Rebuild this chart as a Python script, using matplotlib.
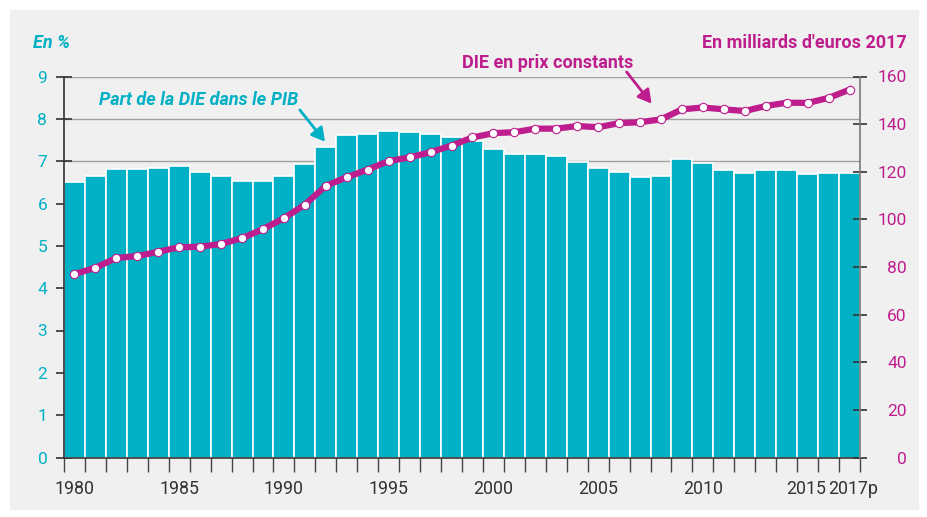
import matplotlib
matplotlib.use("Agg")
import matplotlib.pyplot as plt
import matplotlib.transforms as mtransforms
from matplotlib.patches import Rectangle
import numpy as np

# ── data ─────────────────────────────────────────────────────────────────────

years = list(range(1980, 2018))

# Part de la DIE dans le PIB (en %)
part_pib = [6.50, 6.65, 6.82, 6.81, 6.84, 6.89, 6.74, 6.65, 6.54, 6.52,
            6.64, 6.94, 7.34, 7.61, 7.64, 7.71, 7.70, 7.65, 7.56, 7.48,
            7.29, 7.17, 7.18, 7.12, 6.97, 6.85, 6.75, 6.63, 6.66, 7.06,
            6.96, 6.79, 6.72, 6.78, 6.78, 6.69, 6.71, 6.72]

# DIE en prix constants (milliards d'euros 2017)
die_const = [77.0, 79.7, 83.8, 84.6, 86.4, 88.3, 88.5, 89.7, 92.1, 95.9,
             100.5, 106.2, 114.1, 117.7, 120.9, 124.5, 126.0, 128.2, 131.0, 134.4,
             136.2, 136.6, 138.1, 138.1, 139.2, 138.7, 140.4, 140.8, 142.0, 146.2,
             147.0, 146.2, 145.5, 147.6, 149.0, 148.9, 151.0, 154.5]

label_years = [1980, 1985, 1990, 1995, 2000, 2005, 2010, 2015, 2017]
label_texts = ["1980", "1985", "1990", "1995", "2000", "2005", "2010", "2015", "2017p"]

left_ticks = list(range(0, 10))
right_ticks = list(range(0, 161, 20))

# ── style ────────────────────────────────────────────────────────────────────

TEAL = "#00B0C4"
MAGENTA = "#BE1E8D"
BG = "#F0F0F0"
DARK = "#333333"

plt.rcParams["font.family"] = ["Roboto", "DejaVu Sans"]

W, H = 927, 517
fig = plt.figure(figsize=(W / 100, H / 100), dpi=100)
fig.patch.set_facecolor("white")
fig.patches.append(Rectangle((10 / W, 1 - 509 / H), 908 / W, 499 / H,
                             transform=fig.transFigure, color=BG, zorder=-10))

ax = fig.add_axes([64 / W, 1 - 457.5 / H, 796 / W, 381 / H])
ax.set_facecolor("none")

x = np.arange(len(years))
ax.bar(x, part_pib, width=1.0, color=TEAL, edgecolor="white",
       linewidth=1.2, zorder=2)

ax.set_xlim(-0.5, len(years) - 0.5)
ax.set_ylim(0, 9)
ax.set_yticks(left_ticks)
ax.yaxis.grid(True, color="#a0a0a0", lw=1.0)
ax.set_axisbelow(True)

# x axis: labels at bar centres, ticks at bar edges
ax.set_xticks([years.index(y) for y in label_years])
ax.set_xticklabels(label_texts)
ax.set_xticks(np.arange(-0.5, len(years)), minor=True)
ax.tick_params(axis="x", which="major", length=0, pad=16,
               labelsize=12.8, labelcolor=DARK)
ax.tick_params(axis="x", which="minor", length=10, width=1, color="#444444",
               direction="out")
ax.tick_params(axis="y", direction="inout", length=11, width=1.2,
               color=DARK, labelsize=12.5, labelcolor=TEAL, pad=6.5)

# nudge the last two labels apart like the original
xlabels = ax.get_xticklabels()
xlabels[-2].set_transform(xlabels[-2].get_transform() +
                          mtransforms.ScaledTranslation(-2 / 100, 0, fig.dpi_scale_trans))
xlabels[-1].set_transform(xlabels[-1].get_transform() +
                          mtransforms.ScaledTranslation(4 / 100, 0, fig.dpi_scale_trans))

for s in ("top", "right"):
    ax.spines[s].set_visible(False)
ax.spines["left"].set_color(DARK)
ax.spines["bottom"].set_color(DARK)
ax.spines["left"].set_linewidth(1.2)
ax.spines["bottom"].set_linewidth(1.2)

# right axis: DIE en prix constants
ax2 = ax.twinx()
ax2.plot(x, die_const, color=MAGENTA, lw=4.5, marker="o", ms=6,
         mfc="white", mec=MAGENTA, mew=0.8, zorder=3)
ax2.set_ylim(0, 160)
ax2.set_yticks(right_ticks)
ax2.tick_params(axis="y", direction="inout", length=10, width=1.2,
                color=DARK, labelsize=12.5, labelcolor=MAGENTA, pad=28.5)
for lab in ax2.get_yticklabels():
    lab.set_horizontalalignment("right")
for s in ("top", "left", "bottom"):
    ax2.spines[s].set_visible(False)
ax2.spines["right"].set_color("#777777")
ax2.spines["right"].set_linewidth(1.2)

# ── titles & annotations ─────────────────────────────────────────────────────

fig.text(33 / W, 1 - 43 / H, "En %", ha="left", va="center", fontsize=13,
         fontweight="bold", fontstyle="italic", color=TEAL)
fig.text(907 / W, 1 - 43 / H, "En milliards d'euros 2017", ha="right",
         va="center", fontsize=13, fontweight="bold", color=MAGENTA)

i92 = years.index(1992)
ax.text(5.94, 8.33, "Part de la DIE dans le PIB", ha="center", va="baseline",
        fontsize=13, fontweight="bold", fontstyle="italic", color=TEAL, zorder=5)
ax.annotate("", xy=(i92 - 0.04, part_pib[i92] + 0.12), xytext=(10.76, 8.21),
            arrowprops=dict(arrowstyle="-|>,head_length=0.8,head_width=0.45",
                            lw=2, color=TEAL, shrinkA=0, shrinkB=0), zorder=5)

i08 = years.index(2008)
ax2.text(22.6, 163.4, "DIE en prix constants", ha="center", va="baseline",
         fontsize=13, fontweight="bold", color=MAGENTA, clip_on=False)
ax2.annotate("", xy=(i08 - 0.45, die_const[i08] + 6.6), xytext=(26.36, 161.9),
             annotation_clip=False,
             arrowprops=dict(arrowstyle="-|>,head_length=0.8,head_width=0.45",
                             lw=2, color=MAGENTA, shrinkA=0, shrinkB=0))

fig.savefig("out.png", dpi=100)
